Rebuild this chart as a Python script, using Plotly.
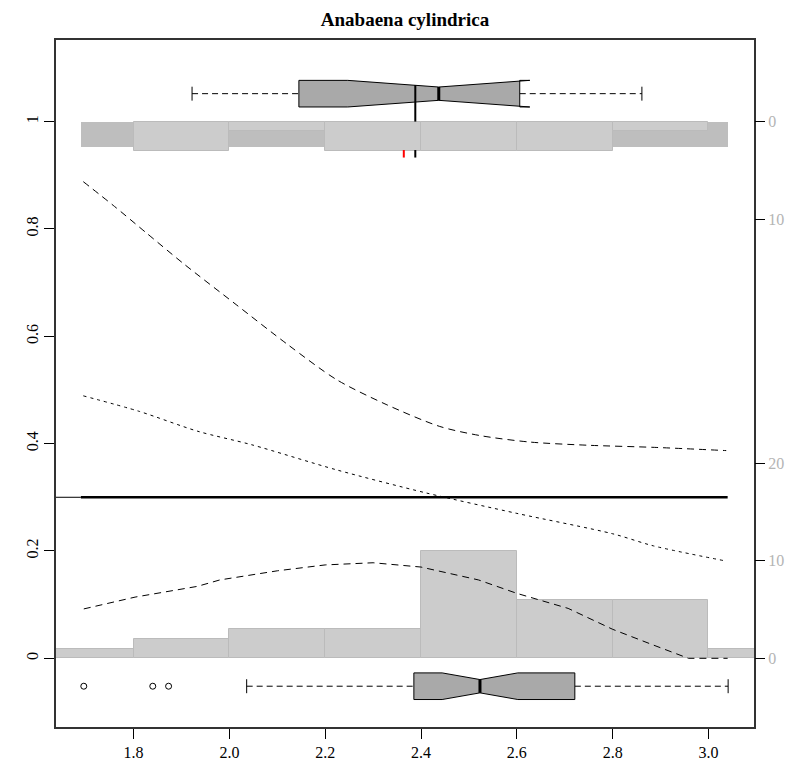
import plotly.graph_objects as go

# ---------------- data ----------------
bin_edges = [1.6, 1.8, 2.0, 2.2, 2.4, 2.6, 2.8, 3.0, 3.2]
bottom_counts = [1, 2, 3, 3, 11, 6, 6, 1]
top_counts = [0, 3, 1, 3, 3, 3, 1, 0]
count_unit = 0.2 / 11          # probability units per count (right axis scale)
top_band_range = [1.69, 3.04]
top_band_depth = 0.048

# right-axis labels (counts)
right_tick_counts_top = [0, 10]
right_tick_counts_bottom = [0, 10, 20]

# fitted curves
dash_x = [1.695, 1.76, 1.826, 1.906, 2.014, 2.121, 2.224, 2.327, 2.439, 2.523, 2.626, 2.747, 2.887, 3.037]
dash_y = [0.888, 0.842, 0.793, 0.734, 0.659, 0.585, 0.519, 0.473, 0.432, 0.415, 0.403, 0.397, 0.393, 0.387]

dot_x = [1.695, 1.812, 1.934, 2.046, 2.224, 2.411, 2.6, 2.8, 2.885, 3.035]
dot_y = [0.489, 0.460, 0.423, 0.398, 0.351, 0.308, 0.270, 0.232, 0.2095, 0.1815]

bump_x = [1.696, 1.803, 1.933, 1.98, 2.1, 2.2, 2.3, 2.4, 2.52, 2.6, 2.707, 2.8, 2.884, 2.958, 3.04]
bump_y = [0.092, 0.114, 0.134, 0.146, 0.163, 0.174, 0.178, 0.170, 0.146, 0.121, 0.093, 0.054, 0.025, 0.0, 0.0]

cut_level = 0.3
cut_range = [1.69, 3.04]

# boxplot statistics
top_box = dict(lo=1.922, q1=2.145, med=2.437, q3=2.606, hi=2.861, notch=0.19, y=1.052)
bottom_box = dict(lo=2.036, q1=2.385, med=2.523, q3=2.721, hi=3.041, notch=0.079, y=-0.052)
bottom_outliers = [1.696, 1.840, 1.873]

mean_mark_black = 2.388
mean_mark_red = 2.364

xrange = [1.638, 3.095]
yrange = [-0.128, 1.152]

# ---------------- figure ----------------
fig = go.Figure()

LIGHT = "#CCCCCC"
EDGE = "#BBBBBB"

# top dark band
fig.add_trace(go.Bar(x=[(top_band_range[0] + top_band_range[1]) / 2], y=[top_band_depth],
                     base=[1 - top_band_depth], width=[top_band_range[1] - top_band_range[0]],
                     marker=dict(color="#BEBEBE", line=dict(width=0)), showlegend=False,
                     hoverinfo="skip"))

centers = [(bin_edges[i] + bin_edges[i + 1]) / 2 for i in range(len(bin_edges) - 1)]
widths = [bin_edges[i + 1] - bin_edges[i] for i in range(len(bin_edges) - 1)]

bx, by, bw = [], [], []
for c, n, w in zip(centers, bottom_counts, widths):
    if n > 0:
        bx.append(c); by.append(n * count_unit); bw.append(w)
fig.add_trace(go.Bar(x=bx, y=by, base=[0] * len(bx), width=bw,
                     marker=dict(color=LIGHT, line=dict(color=EDGE, width=1)),
                     showlegend=False, hoverinfo="skip"))

tx, ty, tb, tw = [], [], [], []
for c, n, w in zip(centers, top_counts, widths):
    if n > 0:
        tx.append(c); ty.append(n * count_unit); tb.append(1 - n * count_unit); tw.append(w)
fig.add_trace(go.Bar(x=tx, y=ty, base=tb, width=tw,
                     marker=dict(color=LIGHT, line=dict(color=EDGE, width=1)),
                     showlegend=False, hoverinfo="skip"))

# curves
fig.add_trace(go.Scatter(x=dash_x, y=dash_y, mode="lines",
                         line=dict(color="black", width=1, dash="7px,5px", shape="spline", smoothing=0.8),
                         showlegend=False))
fig.add_trace(go.Scatter(x=dot_x, y=dot_y, mode="lines",
                         line=dict(color="black", width=1, dash="3px,4px", shape="spline", smoothing=0.8),
                         showlegend=False))
fig.add_trace(go.Scatter(x=bump_x, y=bump_y, mode="lines", line=dict(color="black", width=1, dash="7px,5px"),
                         showlegend=False))

# cut-off line
fig.add_trace(go.Scatter(x=[xrange[0], cut_range[0]], y=[cut_level, cut_level], mode="lines", line=dict(color="black", width=1), showlegend=False))
fig.add_trace(go.Scatter(x=cut_range, y=[cut_level, cut_level], mode="lines", line=dict(color="black", width=2.5), showlegend=False))

BOX_H = 0.0248
CAP_H = 0.013


def add_box(b, outliers=()):
    c = b["y"]
    h = BOX_H
    nlo = b["med"] - b["notch"]
    nhi = b["med"] + b["notch"]
    # whiskers
    fig.add_trace(go.Scatter(x=[b["lo"], b["q1"], None, b["q3"], b["hi"]], y=[c, c, None, c, c], mode="lines",
                             line=dict(color="black", width=1, dash="6px,4px"), showlegend=False))
    fig.add_trace(go.Scatter(x=[b["lo"], b["lo"], None, b["hi"], b["hi"]],
                             y=[c - CAP_H, c + CAP_H, None, c - CAP_H, c + CAP_H], mode="lines",
                             line=dict(color="black", width=1), showlegend=False))
    # notched box
    px = [b["q1"], nlo, b["med"], nhi, b["q3"], b["q3"], nhi, b["med"], nlo, b["q1"], b["q1"]]
    py = [c + h, c + h, c + h / 2, c + h, c + h, c - h, c - h, c - h / 2, c - h, c - h, c + h]
    fig.add_trace(go.Scatter(x=px, y=py, mode="lines", fill="toself", fillcolor="#A9A9A9",
                             line=dict(color="black", width=1), showlegend=False))
    # median
    fig.add_trace(go.Scatter(x=[b["med"], b["med"]], y=[c - h / 2, c + h / 2], mode="lines",
                             line=dict(color="black", width=3), showlegend=False))
    if outliers:
        fig.add_trace(go.Scatter(x=list(outliers), y=[c] * len(outliers), mode="markers",
                                 marker=dict(symbol="circle-open", size=6, color="black", line=dict(width=1)),
                                 showlegend=False))


add_box(top_box)
add_box(bottom_box, bottom_outliers)

# mean markers
fig.add_trace(go.Scatter(x=[mean_mark_black, mean_mark_black], y=[1.0, 1.068], mode="lines",
                         line=dict(color="black", width=2), showlegend=False))
fig.add_trace(go.Scatter(x=[mean_mark_black, mean_mark_black], y=[0.933, 0.947], mode="lines",
                         line=dict(color="black", width=2), showlegend=False))
fig.add_trace(go.Scatter(x=[mean_mark_red, mean_mark_red], y=[0.933, 0.947], mode="lines",
                         line=dict(color="red", width=2), showlegend=False))

# invisible trace to carry the right axis
fig.add_trace(go.Scatter(x=[xrange[0]], y=[0], yaxis="y2", mode="markers", marker=dict(opacity=0),
                         showlegend=False, hoverinfo="skip"))

r_vals = [1 - n * count_unit for n in right_tick_counts_top] + [n * count_unit for n in right_tick_counts_bottom]
r_text = [str(n) for n in right_tick_counts_top] + [str(n) for n in right_tick_counts_bottom]

xt = [1.8, 2.0, 2.2, 2.4, 2.6, 2.8, 3.0]
yt = [0, 0.2, 0.4, 0.6, 0.8, 1.0]

fig.update_layout(
    width=799, height=775,
    margin=dict(l=56, r=45, t=40, b=48),
    paper_bgcolor="white", plot_bgcolor="white",
    barmode="overlay", bargap=0,
    font=dict(family="Liberation Serif", size=16, color="black"),
    title=dict(text="<b>Anabaena cylindrica</b>", x=0.5, xref="paper", y=1 - 19 / 775, yref="container",
               xanchor="center", yanchor="middle", font=dict(family="Liberation Serif", size=19, color="black")),
    xaxis=dict(range=xrange, tickvals=xt, ticktext=["%.1f" % v for v in xt], ticks="outside", ticklen=10,
               tickcolor="black", showline=True, linecolor="#333333", linewidth=1.5, mirror=True,
               showgrid=False, zeroline=False, tickfont=dict(size=16)),
    yaxis=dict(range=yrange, tickvals=yt, ticktext=["0", "0.2", "0.4", "0.6", "0.8", "1"], tickangle=-90,
               ticks="outside", ticklen=10, tickcolor="black", showline=True, linecolor="#333333",
               linewidth=1.5, mirror=True, showgrid=False, zeroline=False, tickfont=dict(size=16)),
    yaxis2=dict(range=yrange, overlaying="y", side="right", tickvals=r_vals, ticktext=r_text,
                ticks="outside", ticklen=10, tickcolor="black", tickfont=dict(color="#B4B4B4", size=16),
                showline=False, showgrid=False, zeroline=False),
)

fig.write_html("out.html")
